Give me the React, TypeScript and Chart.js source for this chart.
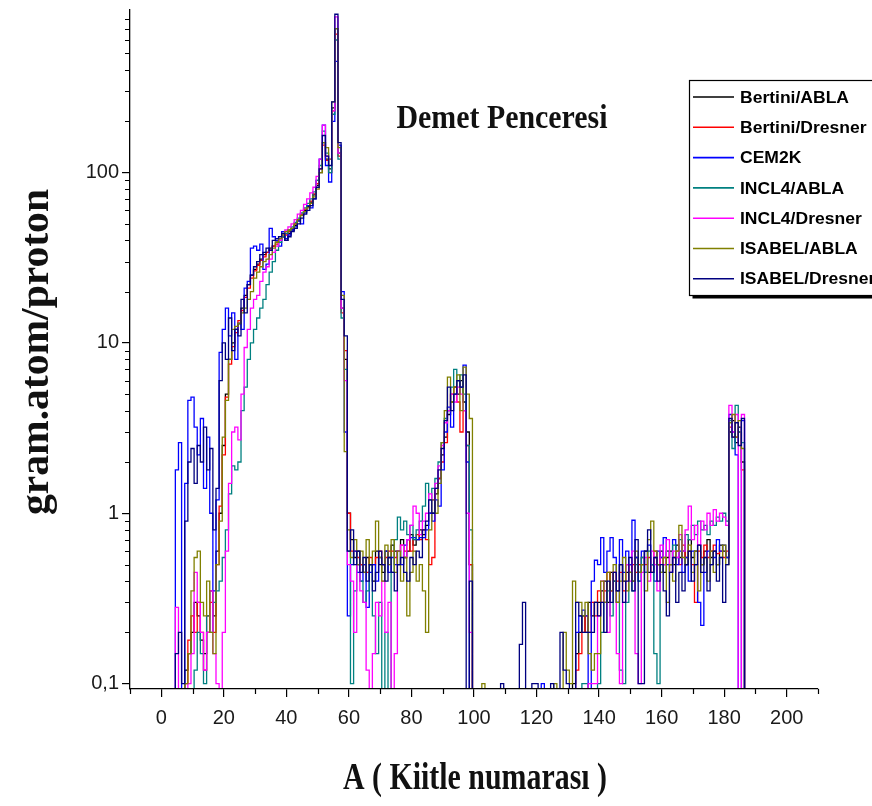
import { useEffect, useRef } from 'react';
import { Chart, registerables } from 'chart.js';

Chart.register(...registerables);

// Mass number of the first bin in every series below; one value per integer A.
const A_START = 4;
// Empty bins (0) sit below the visible decade range so the steps fall to the axis.
const EMPTY_BIN_LEVEL = 0.01;

const bertiniAbla = [
  0, 0, 0, 0, 0.12, 0.15, 0.2, 0.3, 0.25, 0.18, 0.15,
  0.2, 0.35, 0.25, 0.6, 1.0, 2.5, 5, 8, 10, 12,
  13, 16, 19, 22, 25, 27, 29, 31, 33, 34,
  36, 37, 39, 41, 42, 40, 44, 46, 49, 52,
  56, 60, 63, 67, 74, 84, 100, 150, 120, 105,
  240, 700, 130, 16, 8, 1.0, 0.7, 0.55, 0.6, 0.5,
  0.45, 0.55, 0.5, 0.4, 0.6, 0.5, 0.45, 0.6, 0.55, 0.65,
  0.6, 0.5, 0.7, 0.55, 0.6, 0.75, 0.65, 0.7, 0.8, 0.75,
  0.85, 1.0, 1.0, 1.3, 1.6, 2.2, 2.8, 3.8, 4.5, 5.5,
  5.0, 6.0, 4.5, 3.0, 0.5, 0, 0, 0, 0, 0,
  0, 0, 0, 0, 0, 0, 0, 0, 0, 0,
  0, 0, 0, 0, 0, 0, 0, 0, 0, 0,
  0, 0, 0, 0, 0, 0, 0, 0.1, 0.15, 0.2,
  0.25, 0.2, 0.3, 0.25, 0.3, 0.3, 0.35, 0.4, 0.3, 0.45,
  0.4, 0.35, 0.5, 0.4, 0.45, 0.5, 0.4, 0.55, 0.45, 0.5,
  0.6, 0.45, 0.5, 0.55, 0.5, 0.6, 0.45, 0.55, 0.6, 0.5,
  0.65, 0.55, 0.6, 0.5, 0.7, 0.55, 0.6, 0.65, 0.5, 0.6,
  0.7, 0.55, 0.6, 0.5, 0.65, 0.6, 0.55, 3.0, 3.5, 2.6,
  3.2, 2.0, 0,
];

const bertiniDresner = [
  0, 0, 0, 0, 0.1, 0.18, 0.25, 0.2, 0.3, 0.2, 0.12,
  0.25, 0.3, 0.2, 0.5, 1.1, 2.2, 4.8, 7.5, 9.5, 11.5,
  13.5, 15.5, 18.5, 21, 24, 26.5, 28.5, 30.5, 32, 34,
  35, 37, 38, 40, 42, 43, 45, 47, 50, 53,
  57, 61, 64, 68, 75, 86, 105, 145, 118, 100,
  230, 650, 125, 15, 9, 1.0, 0.6, 0.6, 0.55, 0.5,
  0.5, 0.45, 0.55, 0.5, 0.55, 0.6, 0.5, 0.55, 0.6, 0.6,
  0.55, 0.6, 0.65, 0.6, 0.7, 0.6, 0.7, 0.75, 0.7, 0.8,
  0.7, 0.5, 0.55, 1.4, 1.6, 2.0, 2.6, 4.0, 5.0, 5.5,
  4.5, 3.0, 4.0, 2.5, 0.5, 0, 0, 0, 0, 0,
  0, 0, 0, 0, 0, 0, 0, 0, 0, 0,
  0, 0, 0, 0, 0, 0, 0, 0, 0, 0,
  0, 0, 0, 0, 0, 0, 0, 0, 0.12, 0.15,
  0.2, 0.25, 0.2, 0.3, 0.25, 0.35, 0.3, 0.35, 0.45, 0.35,
  0.45, 0.4, 0.45, 0.35, 0.5, 0.45, 0.5, 0.45, 0.5, 0.55,
  0.5, 0.55, 0.45, 0.6, 0.5, 0.55, 0.5, 0.6, 0.5, 0.55,
  0.6, 0.5, 0.65, 0.55, 0.6, 0.5, 0.3, 0.6, 0.55, 0.65,
  0.55, 0.6, 0.65, 0.58, 0.6, 0.55, 0.6, 3.2, 2.8, 2.8,
  3.0, 1.8, 0,
];

const cem2k = [
  0, 1.8, 2.6, 0, 1.5, 4.6, 4.8, 3.2, 2.2, 3.6, 1.4,
  2.8, 1.0, 0.35, 1.2, 8.8, 12, 16, 11, 15, 8,
  13, 12, 21, 23, 36, 37, 35, 38, 27, 29,
  47, 42, 40, 37, 45, 41, 43, 46, 48, 52,
  50, 58, 64, 62, 70, 90, 120, 190, 110, 88,
  200, 450, 145, 20, 3.0, 0.25, 0.5, 0.6, 0.45, 0.4,
  0.5, 0.28, 0.45, 0.5, 0.4, 0.55, 0.5, 0.6, 0.45, 0.55,
  0.5, 0.6, 0.5, 0.65, 0.7, 0.72, 0.72, 0.7, 0.72, 0.72,
  0.8, 1.0, 0.9, 1.2, 1.1, 1.8, 3.0, 4.2, 3.2, 5.0,
  6.0, 5.5, 7.4, 2.0, 0, 0, 0, 0, 0, 0,
  0, 0, 0, 0, 0, 0, 0, 0, 0, 0,
  0, 0, 0, 0, 0, 0, 0, 0.1, 0, 0,
  0, 0, 0, 0, 0, 0, 0, 0, 0.2, 0.25,
  0.27, 0.25, 0, 0.4, 0.53, 0.5, 0.72, 0.45, 0.6, 0.72,
  0.55, 0.3, 0.7, 0.45, 0.6, 0.5, 0.91, 0.55, 0.4, 0.6,
  0.45, 0.65, 0.5, 0.4, 0.6, 0.55, 0.72, 0.5, 0.45, 0.7,
  0.5, 0.6, 0.45, 0.55, 0.4, 0.6, 0.5, 0.3, 0.22, 0.45,
  0.6, 0.5, 0.55, 0.7, 0.6, 0.65, 0.55, 3.8, 3.0, 2.2,
  0, 3.5, 0,
];

const incl4Abla = [
  0, 0, 0, 0, 0, 0, 0, 0.12, 0.2, 0.15, 0.1,
  0.25, 0.2, 0.3, 0.35, 0.4, 0.55, 0.8, 1.3, 1.9, 1.8,
  2.0, 4.0, 5.5, 8.0, 10, 12, 14, 16, 18, 22,
  26, 30, 35, 39, 42, 44, 46, 48, 51, 54,
  58, 62, 66, 70, 77, 90, 110, 175, 130, 100,
  220, 600, 120, 14, 7, 0.6, 0.1, 0.35, 0.5, 0.4,
  0.3, 0.35, 0.5, 0.25, 0.15, 0.3, 0, 0.2, 0, 0.45,
  0.7, 0.95, 0.8, 0.9, 0.75, 0.85, 0.7, 0.8, 0.9, 1.1,
  1.5, 1.2, 1.4, 1.6, 2.0, 2.6, 3.6, 4.0, 5.5, 7.0,
  6.0, 6.5, 5.0, 2.5, 0.8, 0, 0, 0, 0, 0,
  0, 0, 0, 0, 0, 0, 0, 0, 0, 0,
  0, 0, 0, 0, 0, 0, 0, 0, 0, 0,
  0, 0, 0, 0, 0, 0, 0, 0, 0, 0,
  0.1, 0.1, 0, 0, 0, 0.1, 0.2, 0.3, 0.35, 0.25,
  0.4, 0.3, 0.12, 0.1, 0.3, 0.45, 0.35, 0.5, 0.4, 0.55,
  0.45, 0.6, 0.5, 0.15, 0.1, 0.45, 0.55, 0.6, 0.5, 0.65,
  0.55, 0.7, 0.6, 0.75, 0.7, 0.85, 0.75, 0.9, 0.8, 0.85,
  0.75, 0.9, 0.85, 0.95, 0.9, 1.0, 0.9, 3.5, 2.4, 4.3,
  3.0, 2.6, 0,
];

const incl4Dresner = [
  0, 0.28, 0, 0, 0, 0.1, 0.15, 0.45, 0.3, 0.2, 0.12,
  0.2, 0.35, 0.15, 0.1, 0, 0.2, 0.6, 1.5, 3.0, 3.2,
  2.7, 5.0, 9.4, 12, 16, 18, 19, 23, 26, 28,
  31, 34, 37, 40, 43, 46, 48, 50, 53, 57,
  60, 65, 70, 76, 82, 95, 120, 190, 125, 120,
  230, 820, 130, 16, 6, 0.5, 0.4, 0.2, 0.5, 0.35,
  0.3, 0.12, 0, 0.15, 0.3, 0.25, 0.4, 0.2, 0.3, 0,
  0.15, 0.6, 0.65, 0.55, 0.7, 0.85, 1.1, 1.0, 0.75, 0.9,
  1.0, 1.3, 1.2, 1.5, 1.9, 2.5, 3.4, 4.0, 5.0, 4.5,
  5.5, 5.0, 4.0, 1.0, 0.2, 0, 0, 0, 0, 0,
  0, 0, 0, 0, 0, 0, 0, 0, 0, 0,
  0, 0, 0, 0, 0, 0, 0, 0, 0, 0,
  0, 0, 0, 0, 0, 0, 0, 0, 0, 0,
  0, 0, 0.1, 0.1, 0.1, 0.25, 0.4, 0.3, 0.2, 0.35,
  0.45, 0.15, 0.1, 0.3, 0.5, 0.4, 0.6, 0.15, 0.1, 0.45,
  0.55, 0.4, 0.6, 0.5, 0.35, 0.65, 0.5, 0.7, 0.45, 0.6,
  0.55, 0.75, 0.6, 0.8, 1.1, 0.7, 0.85, 0.65, 0.9, 0.8,
  1.0, 0.85, 1.05, 0.9, 1.0, 0.95, 0.85, 4.3, 3.0, 3.8,
  0, 3.8, 0,
];

const isabelAbla = [
  0, 0, 0, 0, 0.1, 0.15, 0.35, 0.55, 0.6, 0.3, 0.25,
  0.4, 0.2, 0.15, 0.5, 0.9, 2.8, 4.6, 8, 12, 12.5,
  13, 15, 16, 18, 20, 24, 26, 28, 30, 31,
  33, 36, 39, 41, 43, 45, 46, 47, 50, 53,
  56, 59, 62, 66, 72, 80, 100, 150, 140, 120,
  260, 700, 140, 19, 2.3, 0.8, 0.55, 0.7, 0.5, 0.6,
  0.45, 0.7, 0.5, 0.6, 0.9, 0.55, 0.4, 0.65, 0.5, 0.7,
  0.45, 0.6, 0.4, 0.55, 0.25, 0.45, 0.6, 0.4, 0.5, 0.35,
  0.2, 0.8, 1.2, 1.0, 1.5, 2.6, 4.0, 6.3, 4.5, 5.5,
  6.5, 4.0, 7.2, 5.0, 3.6, 0, 0, 0, 0.1, 0,
  0, 0, 0, 0, 0, 0, 0, 0, 0, 0,
  0, 0, 0, 0, 0, 0, 0, 0, 0, 0,
  0, 0.1, 0, 0, 0.2, 0.12, 0.1, 0.4, 0.3, 0.3,
  0.25, 0.3, 0.15, 0.12, 0.15, 0.15, 0.4, 0.3, 0.45, 0.35,
  0.5, 0.3, 0.4, 0.55, 0.35, 0.45, 0.4, 0.6, 0.45, 0.5,
  0.35, 0.7, 0.9, 0.6, 0.5, 0.45, 0.55, 0.3, 0.5, 0.4,
  0.6, 0.85, 0.55, 0.5, 0.65, 0.45, 0.6, 0.35, 0.5, 0.55,
  0.4, 0.6, 0.45, 0.5, 0.55, 0.65, 0.5, 3.4, 3.8, 2.8,
  3.5, 2.4, 0,
];

const isabelDresner = [
  0, 0.15, 0.2, 0.1, 0.9, 2.0, 2.4, 1.5, 2.5, 2.0, 3.2,
  1.8, 2.4, 0.8, 1.4, 6, 10, 8, 14, 9, 12,
  11, 18, 15, 22, 25, 28, 30, 33, 34, 36,
  35, 40, 41, 42, 44, 40, 42, 45, 47, 50,
  54, 57, 60, 64, 70, 82, 105, 165, 125, 110,
  260, 850, 150, 18, 11, 0.6, 0.8, 0.5, 0.6, 0.45,
  0.55, 0.4, 0.5, 0.35, 0.45, 0.6, 0.5, 0.4, 0.55, 0.45,
  0.35, 0.5, 0.55, 0.45, 0.4, 0.55, 0.5, 0.6, 0.55, 0.8,
  0.9, 1.2, 1.0, 1.4, 1.8, 2.4, 3.5, 5.5, 4.0, 5.0,
  6.0, 5.5, 6.5, 0, 0.4, 0, 0, 0, 0, 0,
  0, 0, 0, 0, 0.1, 0, 0, 0, 0, 0,
  0.17, 0.3, 0, 0, 0.1, 0.1, 0, 0, 0, 0,
  0.1, 0, 0, 0.2, 0.12, 0.1, 0, 0, 0.3, 0.25,
  0.2, 0.2, 0.2, 0.2, 0.3, 0.25, 0.3, 0.2, 0.4, 0.3,
  0.45, 0.35, 0.5, 0.3, 0.4, 0.55, 0.35, 0.7, 0.1, 0.1,
  0.6, 0.8, 0.45, 0.55, 0.4, 0.5, 0.35, 0.25, 0.45, 0.55,
  0.3, 0.45, 0.35, 0.5, 0.6, 0.4, 0.5, 0.65, 0.45, 0.55,
  0.35, 0.5, 0.6, 0.4, 0.55, 0.3, 0.5, 3.6, 2.8, 3.4,
  2.5, 3.6, 0,
];

const seriesLabels = [
  'Bertini/ABLA',
  'Bertini/Dresner',
  'CEM2K',
  'INCL4/ABLA',
  'INCL4/Dresner',
  'ISABEL/ABLA',
  'ISABEL/Dresner',
];
const seriesValues = [bertiniAbla, bertiniDresner, cem2k, incl4Abla, incl4Dresner, isabelAbla, isabelDresner];
const seriesColors = ['#000000', '#ff0000', '#0000ff', '#008080', '#ff00ff', '#808000', '#000080'];

const xTickValues = [0, 20, 40, 60, 80, 100, 120, 140, 160, 180, 200];
const xMinorTickValues = [-10, 10, 30, 50, 70, 90, 110, 130, 150, 170, 190, 210];
const yTickValues = [0.1, 1, 10, 100];
const yMinorTickValues = [
  0.2, 0.3, 0.4, 0.5, 0.6, 0.7, 0.8, 0.9,
  2, 3, 4, 5, 6, 7, 8, 9,
  20, 30, 40, 50, 60, 70, 80, 90,
  200, 300, 400, 500, 600, 700, 800,
];

const xTitle = 'A ( Kiitle numarası )';
const yTitle = 'gram.atom/proton';
const panelNote = 'Demet Penceresi';

const SANS = '"Liberation Sans", Arial, sans-serif';
const SERIF = '"Liberation Serif", "Times New Roman", serif';

// Draws text squeezed or stretched along its run so it spans exactly `width` pixels.
function fitText(ctx: CanvasRenderingContext2D, text: string, font: string, width: number) {
  ctx.font = font;
  const natural = ctx.measureText(text).width;
  ctx.scale(width / natural, 1);
  ctx.fillText(text, 0, 0);
}

const decorations = {
  id: 'decorations',
  afterDraw(chart: any) {
    const { ctx, chartArea } = chart;
    const xs = chart.scales.x;
    const ys = chart.scales.y;
    ctx.save();

    // minor tick marks
    ctx.strokeStyle = '#000';
    ctx.lineWidth = 1.2;
    ctx.beginPath();
    for (const v of xMinorTickValues) {
      const px = Math.round(xs.getPixelForValue(v)) + 0.5;
      ctx.moveTo(px, chartArea.bottom);
      ctx.lineTo(px, chartArea.bottom + 5);
    }
    for (const v of yMinorTickValues) {
      const py = Math.round(ys.getPixelForValue(v)) + 0.5;
      ctx.moveTo(chartArea.left, py);
      ctx.lineTo(chartArea.left - 5, py);
    }
    ctx.stroke();

    ctx.fillStyle = '#111';
    ctx.textAlign = 'center';
    ctx.textBaseline = 'alphabetic';

    // x axis title
    ctx.save();
    ctx.translate(475, 789);
    fitText(ctx, xTitle, `bold 38px ${SERIF}`, 264);
    ctx.restore();

    // y axis title
    ctx.save();
    ctx.translate(48, 352);
    ctx.rotate(-Math.PI / 2);
    fitText(ctx, yTitle, `bold 40px ${SERIF}`, 326);
    ctx.restore();

    // panel note
    ctx.save();
    ctx.translate(502, 128);
    fitText(ctx, panelNote, `bold 33px ${SERIF}`, 211);
    ctx.restore();

    // legend
    const box = { left: 689.5, top: 80.5, right: 900, bottom: 295.5 };
    ctx.fillStyle = '#fff';
    ctx.fillRect(box.left, box.top, box.right - box.left, box.bottom - box.top);
    ctx.fillStyle = '#000';
    ctx.fillRect(box.left + 3, box.bottom, box.right - box.left, 3);
    ctx.strokeStyle = '#000';
    ctx.lineWidth = 1.2;
    ctx.strokeRect(box.left, box.top, box.right - box.left, box.bottom - box.top);

    const legendFont = `bold 17px ${SANS}`;
    ctx.font = legendFont;
    const legendScale = 109 / ctx.measureText(seriesLabels[0]).width;
    chart.data.datasets.forEach((ds: any, i: number) => {
      const cy = 97 + i * 30.3;
      ctx.strokeStyle = ds.borderColor;
      ctx.lineWidth = 1.6;
      ctx.beginPath();
      ctx.moveTo(693, cy);
      ctx.lineTo(734, cy);
      ctx.stroke();
      ctx.save();
      ctx.translate(740, cy);
      ctx.scale(legendScale, 1);
      ctx.fillStyle = '#000';
      ctx.textAlign = 'left';
      ctx.textBaseline = 'middle';
      ctx.font = legendFont;
      ctx.fillText(ds.label, 0, 1);
      ctx.restore();
    });

    ctx.restore();
  },
};

export default function App() {
  const canvasRef = useRef<HTMLCanvasElement | null>(null);

  useEffect(() => {
    const canvas = canvasRef.current;
    if (!canvas) return;

    const datasets = seriesValues.map((values, i) => ({
      label: seriesLabels[i],
      data: values.map((v, k) => ({ x: A_START + k, y: v > 0 ? v : EMPTY_BIN_LEVEL })),
      borderColor: seriesColors[i],
      backgroundColor: seriesColors[i],
      borderWidth: 1.3,
      pointRadius: 0,
      fill: false,
      stepped: 'middle' as const,
      order: seriesValues.length - 1 - i,
    }));

    const chart = new Chart(canvas, {
      type: 'line',
      data: { datasets },
      options: {
        animation: false,
        responsive: false,
        devicePixelRatio: 1,
        layout: { padding: { left: 0, top: 10, right: 54, bottom: 0 } },
        plugins: {
          legend: { display: false },
          tooltip: { enabled: false },
        },
        scales: {
          x: {
            type: 'linear',
            min: -10,
            max: 210,
            afterBuildTicks: (scale: any) => {
              scale.ticks = xTickValues.map((v) => ({ value: v }));
            },
            afterFit: (scale: any) => {
              scale.height = 117;
              scale.paddingLeft = 0;
              scale.paddingRight = 0;
            },
            grid: { drawOnChartArea: false, tickLength: 8, color: '#000', lineWidth: 1.2, z: 1 },
            border: { color: '#000', width: 1.3, z: 1 },
            ticks: {
              autoSkip: false,
              maxRotation: 0,
              padding: 9,
              color: '#1a1a1a',
              font: { family: SANS, size: 20 },
              callback: (v: any) => String(v),
            },
          },
          y: {
            type: 'logarithmic',
            min: 0.093,
            max: 900,
            afterBuildTicks: (scale: any) => {
              scale.ticks = yTickValues.map((v) => ({ value: v }));
            },
            afterFit: (scale: any) => {
              scale.width = 130;
              scale.paddingTop = 0;
              scale.paddingBottom = 0;
            },
            grid: { drawOnChartArea: false, tickLength: 8, color: '#000', lineWidth: 1.2, z: 1 },
            border: { color: '#000', width: 1.3, z: 1 },
            ticks: {
              padding: 3,
              color: '#1a1a1a',
              font: { family: SANS, size: 20 },
              callback: (v: any) => (Number(v) === 0.1 ? '0,1' : String(v)),
            },
          },
        },
      },
      plugins: [decorations],
    });

    return () => chart.destroy();
  }, []);

  return (
    <div style={{ position: 'absolute', left: 0, top: 0, width: 872, height: 806, background: '#fff' }}>
      <canvas ref={canvasRef} width={872} height={806} style={{ display: 'block' }} />
    </div>
  );
}
